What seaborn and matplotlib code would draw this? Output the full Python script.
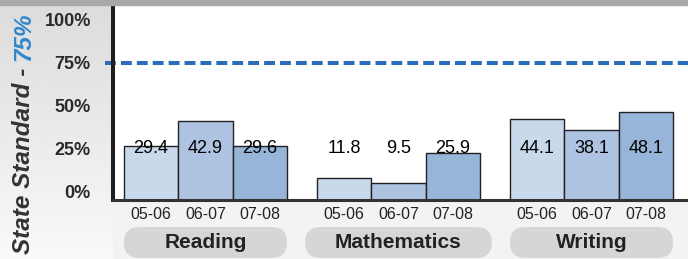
import numpy as np
import pandas as pd
import seaborn as sns
import matplotlib.pyplot as plt
from matplotlib.patches import FancyBboxPatch, Rectangle
from matplotlib.transforms import ScaledTranslation, IdentityTransform

subjects = ["Reading", "Mathematics", "Writing"]
years = ["05-06", "06-07", "07-08"]
reading = [29.4, 42.9, 29.6]
mathematics = [11.8, 9.5, 25.9]
writing = [44.1, 38.1, 48.1]
state_standard = 75
y_ticks = [0, 25, 50, 75, 100]

df = pd.DataFrame({
    "subject": np.repeat(subjects, len(years)),
    "year": years * len(subjects),
    "pct": reading + mathematics + writing,
})

bar_colors = ["#c8d9ec", "#adc3e1", "#97b5d9"]

sns.set_theme(style="white")
plt.rcParams["font.family"] = ["Liberation Sans", "DejaVu Sans"]

W, H = 688, 259
fig = plt.figure(figsize=(W / 100, H / 100), dpi=100, facecolor="#f3f3f3")

# grey gradient panel behind the y labels
bg = fig.add_axes([0, 0, 113 / W, 1], zorder=-10)
grad = np.linspace(0.86, 0.975, 100)[:, None]
bg.imshow(grad, cmap="gray", vmin=0, vmax=1, aspect="auto", extent=[0, 1, 0, 1])
bg.axis("off")

# thin grey strip along the top
fig.add_artist(Rectangle((0, 1 - 5 / H), 1, 5 / H, transform=fig.transFigure,
                         color="#a9a9a9", zorder=5))

ax = fig.add_axes([113 / W, 59 / H, (W - 113) / W, (200 - 5) / H])
ax.set_facecolor("white")
sns.barplot(data=df, x="subject", y="pct", hue="year", palette=bar_colors,
            width=0.845, saturation=1, edgecolor="#222222", linewidth=1,
            legend=False, ax=ax)
ax.set_xlim(-0.479, 2.5)
ax.set_ylim(0, 106.5)
ax.set_xlabel("")
ax.set_ylabel("")

# state standard dashed line
ax.axhline(state_standard, xmin=-0.014, xmax=1, color="#2c6db8", lw=2.9,
           dashes=(2.7, 1.25), clip_on=False, zorder=1)

for side in ["top", "right"]:
    ax.spines[side].set_visible(False)
ax.spines["left"].set_linewidth(2.9)
ax.spines["left"].set_color("#1e1e1e")
ax.spines["bottom"].set_linewidth(2.2)
ax.spines["bottom"].set_color("#333333")

# y ticks
ax.set_yticks(y_ticks)
ax.set_yticklabels([f"{v}%" for v in y_ticks], fontsize=13, fontweight="bold",
                   color="#2a2a2a")
ax.tick_params(axis="y", length=0, pad=16)
for lbl, v in zip(ax.get_yticklabels(), y_ticks):
    off = 9 * (1 - v / 75) / 100
    lbl.set_transform(lbl.get_transform() + ScaledTranslation(0, off, fig.dpi_scale_trans))

# x ticks at each bar, value labels inside
centers, labels = [], []
for year, cont in zip(years, ax.containers):
    for bar in cont:
        cx = bar.get_x() + bar.get_width() / 2
        centers.append(cx)
        labels.append(year)
        ax.text(cx, 28, f"{bar.get_height():.1f}", ha="center", va="center",
                fontsize=13, color="black", zorder=5)
order = np.argsort(centers)
ax.set_xticks([centers[i] for i in order])
ax.set_xticklabels([labels[i] for i in order], fontsize=11.5, color="#222222")
ax.tick_params(axis="x", length=0, pad=5)

# subject labels on rounded grey pills
fig.canvas.draw()
renderer = fig.canvas.get_renderer()
for j, subj in enumerate(subjects):
    first = ax.containers[0][j]
    last = ax.containers[-1][j]
    x0 = ax.transData.transform((first.get_x(), 0))[0]
    x1 = ax.transData.transform((last.get_x() + last.get_width(), 0))[0]
    xc = (x0 + x1) / 2
    t = fig.text(xc / W, (H - 242) / H, subj, ha="center", va="center",
                 fontsize=15, fontweight="bold", color="#222222", zorder=6)
    tw = t.get_window_extent(renderer).width
    pw = max(x1 - x0, tw + 60)
    pill = FancyBboxPatch((xc - pw / 2, 1), pw, 31,
                          boxstyle="round,pad=0,rounding_size=15.5",
                          transform=IdentityTransform(), fc="#d6d6d6", ec="none",
                          zorder=4)
    fig.add_artist(pill)

# y axis title in two colours
t1 = fig.text(24 / W, 1 - 12 / H, "75%", rotation=90, ha="center", va="top",
              fontsize=17.5, fontweight="bold", fontstyle="italic", color="#2f88cc")
fig.canvas.draw()
h1 = t1.get_window_extent(renderer).height
fig.text(24 / W, 1 - (12 + h1 + 7) / H, "State Standard -", rotation=90,
         ha="center", va="top", fontsize=17.5, fontweight="bold",
         fontstyle="italic", color="#333333")

fig.savefig("out.png", dpi=100, facecolor=fig.get_facecolor())
